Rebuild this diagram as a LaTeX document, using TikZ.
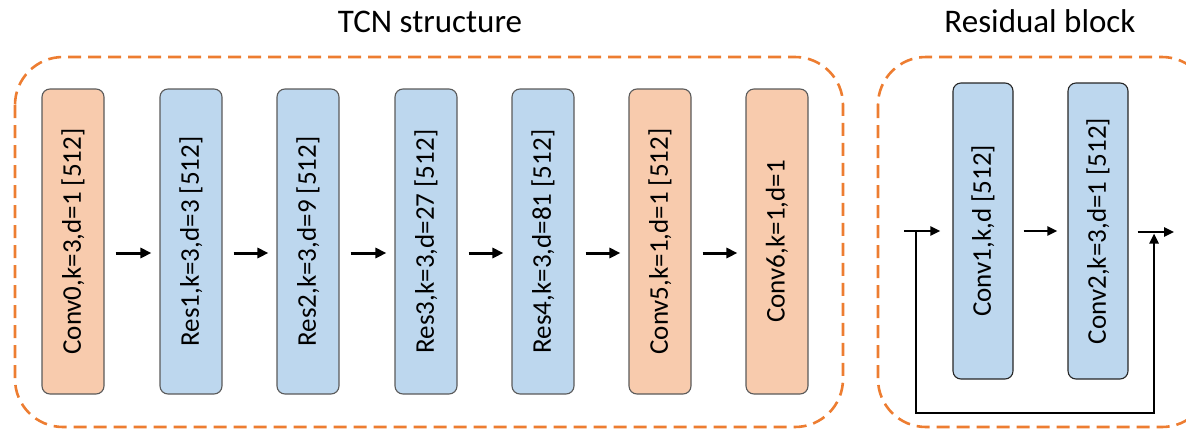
\documentclass[tikz,border=0pt]{standalone}
\usepackage{fontspec}
\setmainfont{Carlito}
\usetikzlibrary{arrows.meta,calc}
\definecolor{frameorange}{HTML}{ED7D31}
\definecolor{convfill}{HTML}{F8CBAD}
\definecolor{resfill}{HTML}{BDD7EE}
\definecolor{boxedge}{HTML}{5A5A5A}
\tikzset{
  group/.style={draw=frameorange, line width=2.6pt, dash pattern=on 13pt off 7pt, rounded corners=48pt},
  layer/.style={rotate=90, draw=boxedge, line width=1.1pt, rounded corners=8pt,
    minimum width=305pt, minimum height=62pt, inner sep=0pt, font=\fontsize{27}{30}\selectfont},
  convbox/.style={layer, fill=convfill},
  resbox/.style={layer, fill=resfill},
  subbox/.style={resbox, draw=black!85, minimum width=296pt, minimum height=60pt},
  arr/.style={line width=3pt, -{Triangle[length=11pt,width=10pt]}},
  thinarr/.style={line width=2.4pt, -{Triangle[length=10pt,width=9pt]}},
  title/.style={anchor=base, font=\fontsize{33}{36}\selectfont}
}
\begin{document}
\begin{tikzpicture}[x=1pt,y=-1pt]
\useasboundingbox (0,0) rectangle (1186,429);
\clip (0,0) rectangle (1186,429);

% titles
\node[title] (ttcn) at (430,32) {TCN structure};
\node[title] (tres) at (1040,32) {Residual block};

% dashed group frames
\draw[group] (15,57) rectangle (843,427);
\draw[group] (878,57) rectangle (1210,427);

% TCN layers
\node[convbox] (c0) at (73,241.5)  {Conv0,k=3,d=1 [512]};
\node[resbox]  (r1) at (191,241.5) {Res1,k=3,d=3 [512]};
\node[resbox]  (r2) at (308,241.5) {Res2,k=3,d=9 [512]};
\node[resbox]  (r3) at (426,241.5) {Res3,k=3,d=27 [512]};
\node[resbox]  (r4) at (543,241.5) {Res4,k=3,d=81 [512]};
\node[convbox] (c5) at (660,241.5) {Conv5,k=1,d=1 [512]};
\node[convbox] (c6) at (777,241.5) {Conv6,k=1,d=1};

\foreach \a/\b in {c0/r1, r1/r2, r2/r3, r3/r4, r4/c5, c5/c6}
  \draw[arr] ($(\a.south)+(11,11.5)$) -- ($(\b.north)+(-8,11.5)$);

% residual block
\node[subbox] (k1) at (983,231)  {Conv1,k,d [512]};
\node[subbox] (k2) at (1098,231) {Conv2,k=3,d=1 [512]};

\coordinate (in)   at (904,231);
\coordinate (fork) at (916,231);
\coordinate (out)  at (1174,232);
\coordinate (join) at (1154,232);
\coordinate (low)  at (916,413);

\draw[thinarr] (in) -- ($(k1.north)+(-12,0)$);
\draw[thinarr] ($(k1.south)+(10,0)$) -- ($(k2.north)+(-10,0)$);
\draw[thinarr] ($(k2.south)+(9,1)$) -- (out);
\draw[thinarr] (fork) -- (low) -| ($(join)+(0,1.5)$);
\end{tikzpicture}
\end{document}
